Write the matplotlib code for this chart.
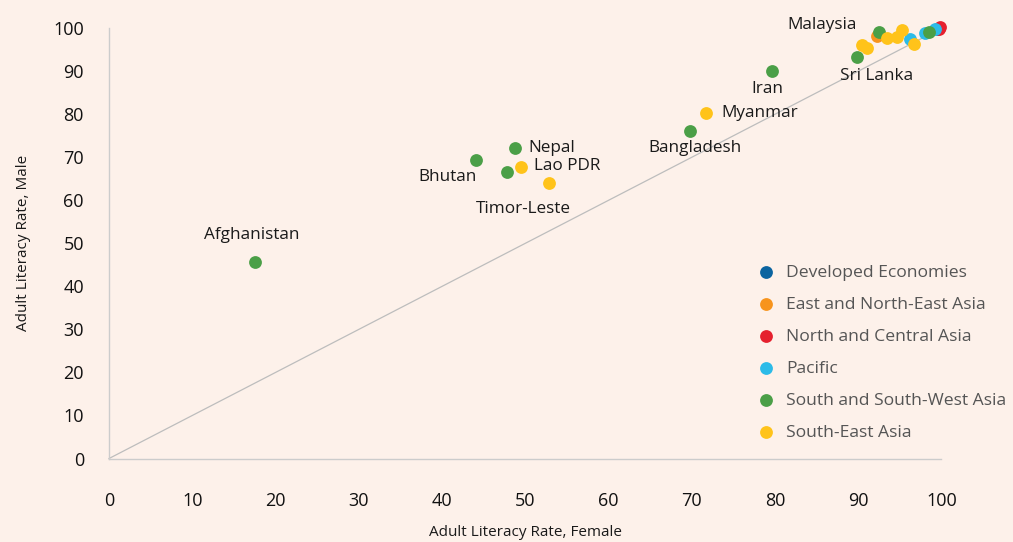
import matplotlib.pyplot as plt

plt.rcParams['font.family'] = ['Open Sans', 'DejaVu Sans']

groups = ['Developed Economies', 'East and North-East Asia', 'North and Central Asia',
          'Pacific', 'South and South-West Asia', 'South-East Asia']
colors = ['#0B64A0', '#F7941D', '#E5202E', '#2CBBE8', '#4B9F47', '#FFC31A']

# female, male literacy rate per group
female = {
    'Developed Economies': [99.5],
    'East and North-East Asia': [92.3],
    'North and Central Asia': [99.7, 99.8],
    'Pacific': [96.2, 98.0, 99.2],
    'South and South-West Asia': [17.5, 44.1, 48.8, 47.8, 69.8, 79.7, 89.9, 92.5, 98.5],
    'South-East Asia': [49.5, 52.9, 71.7, 90.5, 91.1, 93.4, 94.6, 95.2, 96.7],
}
male = {
    'Developed Economies': [99.9],
    'East and North-East Asia': [98.2],
    'North and Central Asia': [99.9, 100.2],
    'Pacific': [97.4, 98.8, 99.8],
    'South and South-West Asia': [45.6, 69.3, 72.1, 66.5, 76.1, 90.1, 93.2, 99.1, 99.0],
    'South-East Asia': [67.7, 64.0, 80.3, 96.0, 95.3, 97.7, 98.0, 99.5, 96.4],
}

# labelled countries: (name, female, male, offset px, ha)
labels = [
    ('Afghanistan', 17.5, 45.6, (-3, 27), 'center'),
    ('Bhutan', 44.1, 69.3, (-29, -17), 'center'),
    ('Nepal', 48.8, 72.1, (13, 0), 'left'),
    ('Lao PDR', 49.5, 67.7, (13, 1), 'left'),
    ('Timor-Leste', 52.9, 64.0, (-26, -26), 'center'),
    ('Bangladesh', 69.8, 76.1, (5, -17), 'center'),
    ('Myanmar', 71.7, 80.3, (15, 0), 'left'),
    ('Iran', 79.7, 90.1, (-5, -18), 'center'),
    ('Sri Lanka', 89.9, 93.2, (19, -19), 'center'),
    ('Malaysia', 90.5, 96.0, (-40, 20), 'center'),
]

bg = '#FDF1EA'
fig = plt.figure(figsize=(10.13, 5.42), dpi=100, facecolor=bg)
ax = fig.add_axes([0.1076, 0.154, 0.8218, 0.794], facecolor=bg)

ax.plot([0, 100], [0, 100], color='#bdbdbd', lw=0.9, zorder=1, clip_on=False)

for g, c in zip(groups, colors):
    ax.scatter(female[g], male[g], s=85, color=c, label=g, zorder=3,
               linewidths=0, clip_on=False)

for name, fx, my, off, ha in labels:
    ax.annotate(name, (fx, my), xytext=off, textcoords='offset pixels',
                ha=ha, va='center', fontsize=12.3, color='#1a1a1a')

ax.set_xlim(0, 100)
ax.set_ylim(0, 100)
ax.set_xticks(range(0, 101, 10))
ax.set_yticks(range(0, 101, 10))
ax.tick_params(length=0, labelsize=13, colors='#111111')
ax.tick_params(axis='x', pad=24)
ax.tick_params(axis='y', pad=18)
for s in ['top', 'right']:
    ax.spines[s].set_visible(False)
for s in ['left', 'bottom']:
    ax.spines[s].set_color('#cccccc')
    ax.spines[s].set_linewidth(1)

ax.set_xlabel('Adult Literacy Rate, Female', fontsize=11, color='#1a1a1a', labelpad=11)
ax.set_ylabel('Adult Literacy Rate, Male', fontsize=11, color='#1a1a1a', labelpad=16)

leg = ax.legend(loc='upper left', bbox_to_anchor=(0.76, 0.467), frameon=False,
                fontsize=12.6, labelspacing=0.9, handletextpad=0.15,
                markerscale=1.0, borderaxespad=0)
for t in leg.get_texts():
    t.set_color('#555555')

fig.savefig('out.png', dpi=100, facecolor=bg)
